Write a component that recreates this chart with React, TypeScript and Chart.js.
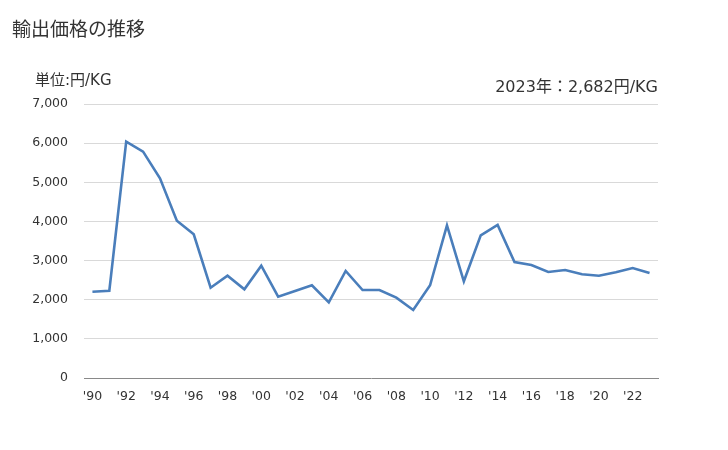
import React, { useEffect, useRef } from "react";
import { Chart, registerables } from "chart.js";

Chart.register(...registerables);

const years: string[] = [
  "'90", "'91", "'92", "'93", "'94", "'95", "'96", "'97", "'98", "'99",
  "'00", "'01", "'02", "'03", "'04", "'05", "'06", "'07", "'08", "'09",
  "'10", "'11", "'12", "'13", "'14", "'15", "'16", "'17", "'18", "'19",
  "'20", "'21", "'22", "'23",
];

const prices: number[] = [
  2205, 2230, 6037, 5782, 5101, 4019, 3671, 2307, 2614, 2266,
  2869, 2077, 2223, 2368, 1934, 2734, 2248, 2248, 2052, 1737,
  2368, 3901, 2470, 3645, 3909, 2964, 2887, 2708, 2759, 2649,
  2614, 2700, 2810, 2682,
];

const yTicks: number[] = [0, 1000, 2000, 3000, 4000, 5000, 6000, 7000];

const titleText = "輸出価格の推移";
const unitText = "単位:円/KG";
const latestText = "2023年：2,682円/KG";

const FONT = "'DejaVu Sans', 'Noto Sans CJK JP', sans-serif";
const CJK = "'Noto Sans CJK JP', sans-serif";

export default function App() {
  const canvasRef = useRef<HTMLCanvasElement | null>(null);

  useEffect(() => {
    if (!canvasRef.current) return;
    const chart = new Chart(canvasRef.current, {
      type: "line",
      data: {
        labels: years,
        datasets: [
          {
            data: prices,
            borderColor: "#4a7ebb",
            borderWidth: 2.6,
            pointRadius: 0,
            tension: 0,
            fill: false,
          },
        ],
      },
      options: {
        animation: false,
        responsive: false,
        maintainAspectRatio: false,
        layout: { padding: { left: 0, right: 70, top: 104, bottom: 0 } },
        plugins: { legend: { display: false }, tooltip: { enabled: false } },
        scales: {
          x: {
            offset: true,
            grid: { display: false, drawTicks: false },
            border: { display: true, color: "#898989", width: 1 },
            ticks: {
              autoSkip: false,
              maxRotation: 0,
              minRotation: 0,
              padding: 11,
              color: "#333333",
              font: { family: FONT, size: 12.5 },
              callback: (_v: any, i: number) => (i % 2 === 0 ? years[i] : ""),
            },
            afterFit: (scale: any) => {
              scale.height = 72;
            },
          },
          y: {
            min: 0,
            max: 7000,
            afterBuildTicks: (scale: any) => {
              scale.ticks = yTicks.map((v) => ({ value: v }));
            },
            grid: {
              drawTicks: false,
              color: (ctx: any) => (ctx.tick && ctx.tick.value === 0 ? "rgba(0,0,0,0)" : "#d9d9d9"),
              lineWidth: 1,
            },
            border: { display: false },
            ticks: {
              padding: 16,
              color: "#333333",
              font: { family: FONT, size: 12.5 },
              callback: (v: any) => Number(v).toLocaleString("en-US"),
            },
            afterFit: (scale: any) => {
              scale.width = 84;
            },
          },
        },
      },
    });
    return () => chart.destroy();
  }, []);

  return (
    <div
      style={{
        position: "fixed",
        left: 0,
        top: 0,
        width: 728,
        height: 450,
        background: "#ffffff",
        fontFamily: FONT,
        color: "#333333",
      }}
    >
      <canvas ref={canvasRef} width={728} height={450} style={{ position: "absolute", left: 0, top: 0 }} />
      <div style={{ position: "absolute", left: 12, top: 15, fontSize: 19, lineHeight: "26px", whiteSpace: "nowrap", fontFamily: CJK }}>
        {titleText}
      </div>
      <div style={{ position: "absolute", left: 35, top: 70, fontSize: 15, lineHeight: "20px", whiteSpace: "nowrap" }}>
        {unitText}
      </div>
      <div
        style={{
          position: "absolute",
          right: 728 - 658,
          top: 76,
          fontSize: 16,
          lineHeight: "22px",
          whiteSpace: "nowrap",
        }}
      >
        {latestText}
      </div>
    </div>
  );
}
